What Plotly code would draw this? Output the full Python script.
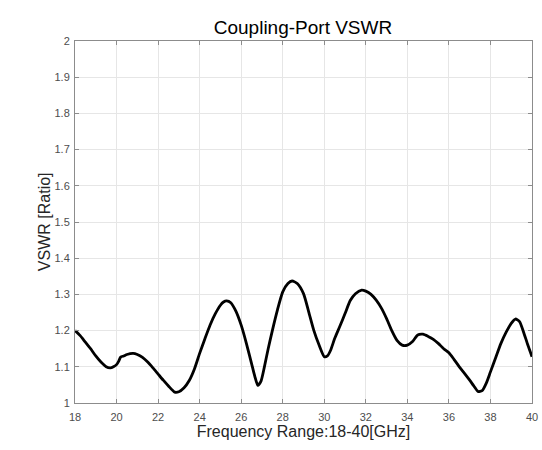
import plotly.graph_objects as go

freq_ghz = [18.0, 18.25, 18.5, 18.75, 19.0, 19.25, 19.5, 19.7, 19.85, 20.0, 20.1, 20.2, 20.35, 20.5, 20.8, 21.0,
            21.25, 21.5, 21.75, 22.0, 22.25, 22.5, 22.8, 23.0, 23.25, 23.5, 23.75, 24.0, 24.25, 24.5, 24.75,
            25.0, 25.15, 25.3, 25.5, 25.75, 26.0, 26.25, 26.5, 26.65, 26.8, 26.95, 27.1, 27.3, 27.5, 27.75, 28.0,
            28.25, 28.45, 28.7, 29.0, 29.25, 29.5, 29.75, 30.0, 30.15, 30.3, 30.5, 30.75, 31.0, 31.25, 31.5,
            31.8, 32.0, 32.25, 32.5, 32.75, 33.0, 33.25, 33.5, 33.75, 34.0, 34.25, 34.5, 34.75, 35.0, 35.25,
            35.5, 35.75, 36.0, 36.25, 36.5, 36.75, 37.0, 37.2, 37.4, 37.6, 37.8, 38.0, 38.25, 38.5, 38.75,
            39.0, 39.2, 39.4, 39.6, 39.8, 40.0]
vswr = [1.200, 1.186, 1.168, 1.150, 1.130, 1.113, 1.100, 1.097, 1.100, 1.106, 1.115, 1.127, 1.130, 1.134, 1.137, 1.134,
        1.126, 1.113, 1.097, 1.080, 1.063, 1.047, 1.030, 1.031, 1.042, 1.062, 1.094, 1.137, 1.177, 1.215, 1.246,
        1.270, 1.279, 1.282, 1.277, 1.253, 1.215, 1.165, 1.109, 1.075, 1.049, 1.060, 1.095, 1.150, 1.200, 1.258, 1.307,
        1.330, 1.337, 1.330, 1.302, 1.252, 1.200, 1.160, 1.128, 1.130, 1.145, 1.178, 1.212, 1.247, 1.283, 1.302,
        1.312, 1.309, 1.300, 1.284, 1.262, 1.233, 1.200, 1.173, 1.160, 1.160, 1.170, 1.188, 1.190, 1.184, 1.176,
        1.164, 1.150, 1.139, 1.120, 1.100, 1.082, 1.063, 1.047, 1.032, 1.034, 1.055, 1.086, 1.125, 1.164, 1.195,
        1.220, 1.232, 1.225, 1.195, 1.160, 1.128]

x_ticks = [18, 20, 22, 24, 26, 28, 30, 32, 34, 36, 38, 40]
y_ticks = [1, 1.1, 1.2, 1.3, 1.4, 1.5, 1.6, 1.7, 1.8, 1.9, 2]
y_tick_text = ["1", "1.1", "1.2", "1.3", "1.4", "1.5", "1.6", "1.7", "1.8", "1.9", "2"]

fig = go.Figure()
fig.add_trace(go.Scatter(x=freq_ghz, y=vswr, mode="lines",
                         line=dict(color="black", width=2.8, shape="spline", smoothing=0.6),
                         showlegend=False, hoverinfo="skip", cliponaxis=True))

axis_common = dict(showline=True, linecolor="#8c8c8c", linewidth=1, mirror="ticks",
                   ticks="inside", ticklen=4, tickcolor="#8c8c8c", automargin=False,
                   showgrid=True, gridcolor="#e6e6e6", gridwidth=1, zeroline=False,
                   tickfont=dict(family="Liberation Sans, Arial", size=11, color="#4d4d4d"))

fig.update_layout(
    width=542, height=450,
    margin=dict(l=75, r=10, t=41, b=47, autoexpand=False),
    paper_bgcolor="white", plot_bgcolor="white",
    title=dict(text="Coupling-Port VSWR", x=0.559, xanchor="center", y=0.94, yanchor="middle",
               font=dict(family="Liberation Sans, Arial", size=19, color="black")),
    xaxis=dict(range=[18, 40], tickvals=x_ticks, ticktext=[str(t) for t in x_ticks],
               ticklabelstandoff=4,
               title=dict(text="Frequency Range:18-40[GHz]", standoff=2,
                          font=dict(family="Liberation Sans, Arial", size=16, color="#262626")),
               **axis_common),
    yaxis=dict(range=[1, 2], tickvals=y_ticks, ticktext=y_tick_text,
               ticklabelstandoff=2,
               **axis_common),
    annotations=[dict(text="VSWR [Ratio]", xref="paper", yref="paper", x=-0.0675, y=0.5,
                      xanchor="center", yanchor="middle", textangle=-90, showarrow=False,
                      font=dict(family="Liberation Sans, Arial", size=16, color="#262626"))],
)

fig.write_html("out.html", config={"displayModeBar": False},
               post_script="document.body.style.margin='0px';document.body.style.overflow='hidden';")
